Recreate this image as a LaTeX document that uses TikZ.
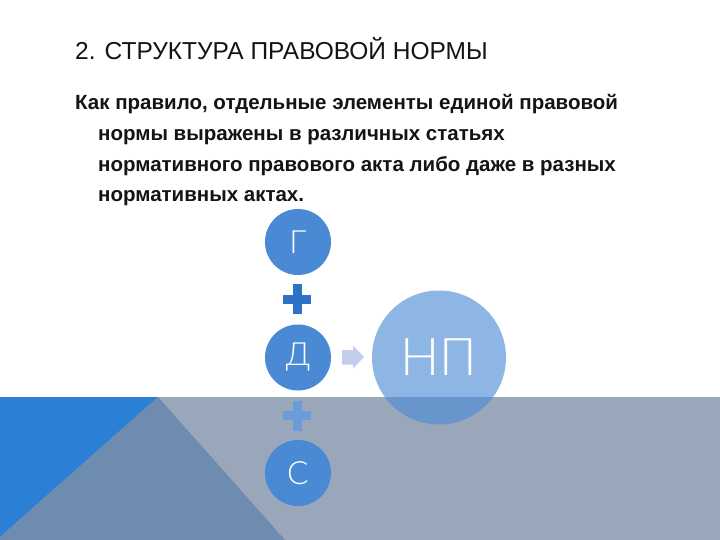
\documentclass[tikz,border=0pt]{standalone}
\usepackage{fontspec}
\setmainfont{Liberation Sans}
\newfontfamily\thinfont{Lato Light}
\definecolor{bandgrey}{RGB}{154,167,187}
\definecolor{brightblue}{RGB}{43,127,213}
\definecolor{darktri}{RGB}{110,139,176}
\definecolor{circblue}{RGB}{74,138,213}
\definecolor{plusdark}{RGB}{45,114,196}
\definecolor{pluslight}{RGB}{106,155,218}
\definecolor{arrowcol}{RGB}{196,205,234}
\definecolor{textcol}{RGB}{20,20,20}
\begin{document}
\begin{tikzpicture}[x=1pt,y=-1pt,
  elem/.style={circle, fill=circblue, minimum size=66pt, inner sep=0pt, text=white, font=\thinfont\fontsize{32}{32}\selectfont},
  bigelem/.style={circle, fill=circblue, fill opacity=0.62, text opacity=1, minimum size=134pt, inner sep=0pt, text=white, font=\thinfont\fontsize{52}{52}\selectfont},
  titletext/.style={anchor=base west, inner sep=0pt, text=textcol, font=\fontsize{24.5}{24.5}\selectfont},
  bodytext/.style={anchor=base west, inner sep=0pt, text=textcol, font=\bfseries\fontsize{20.5}{20.5}\selectfont}
]
\useasboundingbox (0,0) rectangle (720,540);
\fill[white] (0,0) rectangle (720,540);
% bottom band
\fill[bandgrey] (0,397) rectangle (720,540);
\fill[brightblue] (0,397) -- (158,397) -- (0,537) -- cycle;
\fill[darktri] (158,397) -- (0,537) -- (0,540) -- (285,540) -- cycle;
% texts
\node[titletext] (title) at (75,60) {2. СТРУКТУРА ПРАВОВОЙ НОРМЫ};
\node[bodytext] (l1) at (75,110) {Как правило, отдельные элементы единой правовой};
\node[bodytext] (l2) at (98,141) {нормы выражены в различных статьях};
\node[bodytext] (l3) at (98,171.5) {нормативного правового акта либо даже в разных};
\node[bodytext] (l4) at (98,202) {нормативных актах.};
% pluses
\fill[plusdark] (283,294.5) rectangle (311,303.5);
\fill[plusdark] (292.5,284) rectangle (301.5,314);
\fill[pluslight] (283,411) rectangle (311,420);
\fill[pluslight] (292.5,401) rectangle (301.5,431);
% elements
\node[elem] (g) at (298,242) {Г};
\node[elem] (d) at (298,357.5) {Д};
\node[elem] (s) at (298,473) {С};
\fill[arrowcol] (342,350) -- (353,350) -- (353,345.5) -- (364,357) -- (353,368.5) -- (353,364.5) -- (342,364.5) -- cycle;
\node[bigelem] (np) at (439,357.5) {НП};
\end{tikzpicture}
\end{document}
